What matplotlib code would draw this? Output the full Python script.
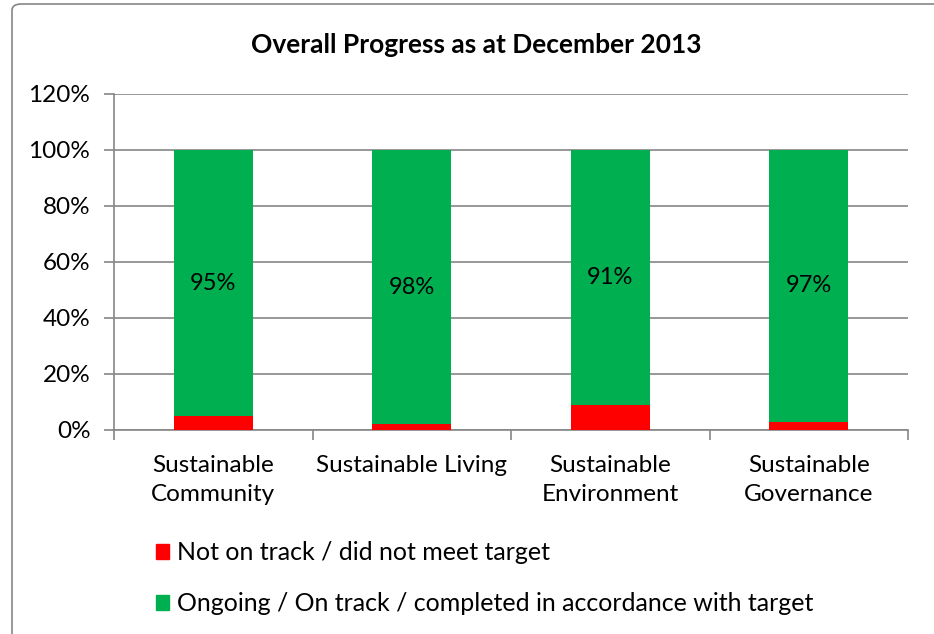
import matplotlib
matplotlib.use("Agg")
import matplotlib.pyplot as plt
from matplotlib.patches import FancyBboxPatch, Patch
import numpy as np

# data
categories = ["Sustainable\nCommunity", "Sustainable Living", "Sustainable\nEnvironment", "Sustainable\nGovernance"]
not_on_track = [5, 2, 9, 3]
on_track = [95, 98, 91, 97]
labels = ["95%", "98%", "91%", "97%"]
y_ticks = [0, 20, 40, 60, 80, 100, 120]

red = "#FF0000"
green = "#00B050"
grey = "#868686"

plt.rcParams['font.family'] = ['Lato', 'DejaVu Sans']

fig = plt.figure(figsize=(9.34, 6.34), dpi=100)
ax = fig.add_axes([114/934, 1 - 430/634, (908 - 114)/934, (430 - 94)/634])

# outer chart border (runs off the right/bottom edge like the reference)
fig.patches.append(FancyBboxPatch((12/934, -0.1), 1.2, 1.1 - 4/634, boxstyle="round,pad=0,rounding_size=0.01",
                                  transform=fig.transFigure, fill=False, edgecolor=grey, linewidth=1.2))

x = np.arange(len(categories))
ax.bar(x, not_on_track, width=0.4, color=red, zorder=3)
ax.bar(x, on_track, width=0.4, bottom=not_on_track, color=green, zorder=3)

for i in range(len(x)):
    ax.text(x[i], not_on_track[i] + on_track[i] / 2, labels[i], ha="center", va="center", fontsize=17, color="black", zorder=4)

ax.set_xlim(-0.5, 3.5)
ax.set_ylim(0, 120)
ax.set_yticks(y_ticks)
ax.set_yticklabels([f"{v}%" for v in y_ticks], fontsize=17.5)
ax.set_xticks(x)
ax.set_xticklabels(categories, fontsize=17.5, linespacing=1.45)
ax.set_xticks(np.arange(-0.5, 4, 1), minor=True)
ax.tick_params(axis="x", which="major", length=0, pad=18)
ax.tick_params(axis="x", which="minor", length=7, color=grey, width=1.2)
ax.tick_params(axis="y", length=7, color=grey, width=1.2, pad=10)

ax.grid(axis="y", color=grey, linewidth=1.2, zorder=0)
for s in ["top", "right"]:
    ax.spines[s].set_visible(False)
for s in ["left", "bottom"]:
    ax.spines[s].set_color(grey)
    ax.spines[s].set_linewidth(1.2)

fig.text(476/934, 1 - 45/634, "Overall Progress as at December 2013", ha="center", va="center", fontsize=19, fontweight="bold")

handles = [Patch(color=red, label="Not on track / did not meet target"),
           Patch(color=green, label="Ongoing / On track / completed in accordance with target")]
fig.legend(handles=handles, loc="upper left", bbox_to_anchor=(133/934, 1 - 519/634), frameon=False, fontsize=18,
           handlelength=0.55, handleheight=0.55, handletextpad=0.3, labelspacing=1.1)

fig.savefig("out.png", dpi=100)
